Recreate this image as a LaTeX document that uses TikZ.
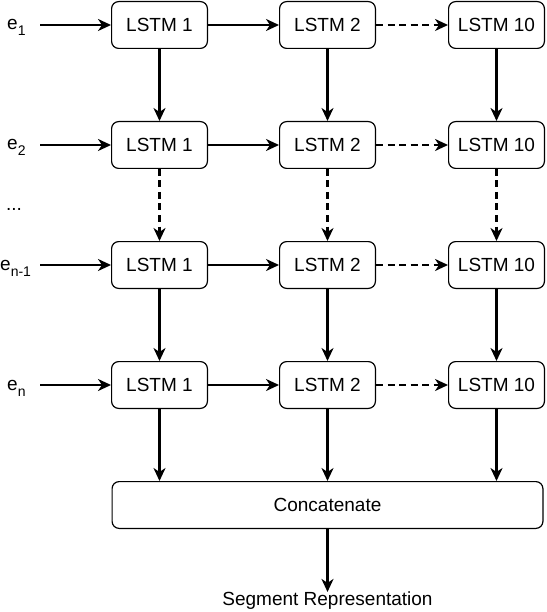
\documentclass[tikz,border=0pt]{standalone}
\usepackage{fontspec}
\setmainfont{Liberation Sans}
\usetikzlibrary{arrows.meta}
\newcommand{\mysub}[1]{\raisebox{-6pt}{\fontsize{14}{14}\selectfont #1}}
\tikzset{
  lstm/.style={draw, line width=1.2pt, rounded corners=7pt, minimum width=95.8pt, minimum height=46.8pt, inner sep=0pt, font=\fontsize{19}{21}\selectfont},
  lbl/.style={inner sep=0pt, font=\fontsize{19}{21}\selectfont},
  arr/.style={line width=2.2pt, -{Stealth[length=13pt,width=12pt,inset=4pt]}},
  darr/.style={arr, dash pattern=on 7pt off 4.5pt},
}
\begin{document}
\begin{tikzpicture}[x=1pt,y=-1pt]
\useasboundingbox (0,0) rectangle (546,612);
% boxes
\foreach \r/\y in {1/25,2/145,3/265,4/385}{
  \node[lstm] (a\r) at (159.5,\y) {LSTM 1};
  \node[lstm] (b\r) at (327.5,\y) {LSTM 2};
  \node[lstm] (c\r) at (496.5,\y) {LSTM 10};
}
\node[lbl, anchor=base west] (e1) at (7,30) {e\mysub{1}};
\node[lbl, anchor=base west] (e2) at (7,150) {e\mysub{2}};
\node[lbl] (dots) at (14,209) {...};
\node[lbl, anchor=base west] (e3) at (0,270) {e\mysub{n-1}};
\node[lbl, anchor=base west] (e4) at (7,390) {e\mysub{n}};
\foreach \r/\y in {1/25,2/145,3/265,4/385}{
  \coordinate (s\r) at (40,\y);
}
\node[lstm, minimum width=430.8pt] (cat) at (327.5,505) {Concatenate};
\node[lbl] (seg) at (327.5,601) {Segment Representation};
% horizontal
\foreach \r in {1,2,3,4}{
  \draw[arr] (s\r) -- (a\r);
  \draw[arr] (a\r) -- (b\r);
  \draw[darr] (b\r) -- (c\r);
}
% vertical
\foreach \c in {a,b,c}{
  \draw[arr] (\c1) -- (\c2);
  \draw[darr] (\c2) -- (\c3);
  \draw[arr] (\c3) -- (\c4);
  \draw[arr] (\c4) -- (\c4 |- cat.north);
}
\draw[arr] (cat) -- (seg.north);
\end{tikzpicture}
\end{document}
